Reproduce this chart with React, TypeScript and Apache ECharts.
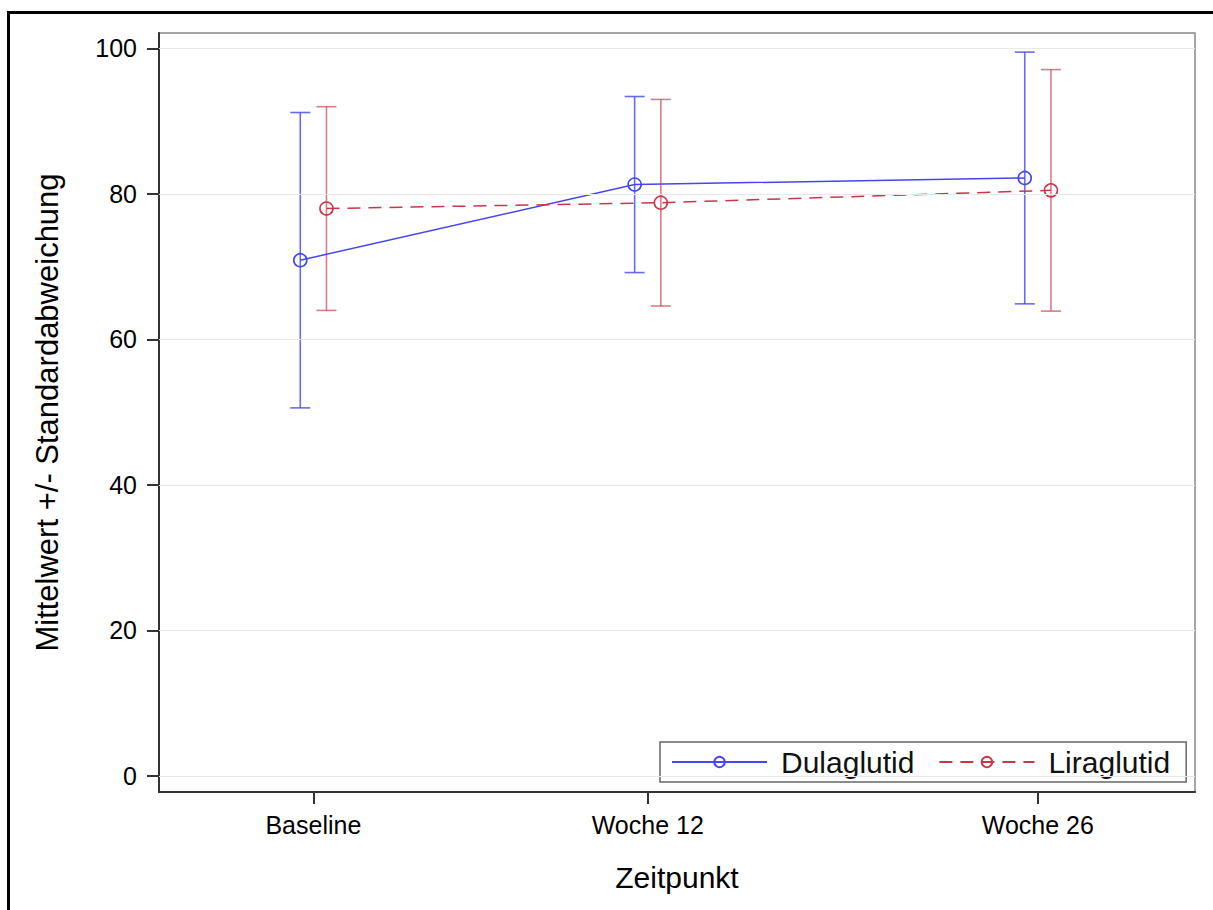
import React, { useEffect, useRef } from "react";
import * as echarts from "echarts";

// ---- data ----
const weeks = [0, 12, 26];
const timeLabels = ["Baseline", "Woche 12", "Woche 26"];
const yTicks = [0, 20, 40, 60, 80, 100];

const duName = "Dulaglutid";
const duMean = [70.9, 81.3, 82.2];
const duSD = [20.3, 12.1, 17.3];

const liName = "Liraglutid";
const liMean = [78.0, 78.8, 80.5];
const liSD = [14.0, 14.2, 16.6];

// ---- styling ----
const DODGE = 0.47;
const BLUE = "#4646EE";
const RED = "#C8364A";
const FONT = "'Liberation Sans', Arial, sans-serif";

export default function App() {
  const ref = useRef<HTMLDivElement>(null);

  useEffect(() => {
    if (!ref.current) return;
    const chart = echarts.init(ref.current, null, { renderer: "svg" });

    const duPts = weeks.map((w, i) => [w - DODGE, duMean[i]]);
    const liPts = weeks.map((w, i) => [w + DODGE, liMean[i]]);
    const duErr = weeks.map((w, i) => [w - DODGE, duMean[i] - duSD[i], duMean[i] + duSD[i]]);
    const liErr = weeks.map((w, i) => [w + DODGE, liMean[i] - liSD[i], liMean[i] + liSD[i]]);

    const errRender = (color: string, opacity: number) => (params: any, api: any) => {
      const x = api.value(0);
      const lo = api.coord([x, api.value(1)]);
      const hi = api.coord([x, api.value(2)]);
      const half = 10;
      const style = { stroke: color, lineWidth: 1.6, opacity };
      return {
        type: "group",
        children: [
          { type: "line", shape: { x1: lo[0], y1: lo[1], x2: hi[0], y2: hi[1] }, style },
          { type: "line", shape: { x1: lo[0] - half, y1: lo[1], x2: lo[0] + half, y2: lo[1] }, style },
          { type: "line", shape: { x1: hi[0] - half, y1: hi[1], x2: hi[0] + half, y2: hi[1] }, style },
        ],
      };
    };

    const option: any = {
      animation: false,
      backgroundColor: "#fff",
      textStyle: { fontFamily: FONT, color: "#000" },
      grid: {
        left: 159,
        top: 33,
        right: 18,
        bottom: 118,
        show: true,
        borderColor: "#888",
        borderWidth: 1.5,
      },
      xAxis: {
        type: "value",
        min: -5.54,
        max: 31.64,
        name: "Zeitpunkt",
        nameLocation: "middle",
        nameGap: 70,
        nameTextStyle: { fontSize: 30, color: "#000", fontFamily: FONT },
        axisLine: { show: true, onZero: false, lineStyle: { color: "#333", width: 2 } },
        axisTick: { show: true, customValues: weeks, length: 12, lineStyle: { color: "#333", width: 2 } },
        axisLabel: {
          customValues: weeks,
          fontSize: 25,
          color: "#000",
          margin: 20,
          fontFamily: FONT,
          formatter: (v: number) => {
            const i = weeks.indexOf(v);
            return i >= 0 ? timeLabels[i] : "";
          },
        },
        splitLine: { show: false },
      },
      yAxis: {
        type: "value",
        min: -2.2,
        max: 102.13,
        name: "Mittelwert +/- Standardabweichung",
        nameLocation: "middle",
        nameGap: 96,
        nameTextStyle: { fontSize: 31, color: "#000", fontFamily: FONT },
        axisLine: { show: true, onZero: false, lineStyle: { color: "#333", width: 2 } },
        axisTick: { show: true, customValues: yTicks, length: 12, lineStyle: { color: "#333", width: 2 } },
        axisLabel: {
          customValues: yTicks,
          fontSize: 25,
          color: "#000",
          margin: 22,
          fontFamily: FONT,
        },
        splitLine: { show: false },
      },
      legend: {
        left: 660,
        top: 742,
        orient: "horizontal",
        data: [duName, liName],
        itemWidth: 95,
        itemHeight: 13,
        itemGap: 24,
        padding: [5, 16, 5, 11],
        borderColor: "#666",
        borderWidth: 1.5,
        backgroundColor: "#fff",
        textStyle: { fontSize: 30, color: "#111", fontFamily: FONT, padding: [0, 0, 0, 9] },
      },
      graphic: [
        {
          type: "rect",
          shape: { x: 8.5, y: 12.5, width: 1220, height: 920 },
          style: { fill: "none", stroke: "#000", lineWidth: 3 },
          silent: true,
          z: 100,
        },
      ],
      series: [
        {
          type: "line",
          name: "grid",
          data: [],
          silent: true,
          z: 0,
          markLine: {
            silent: true,
            symbol: "none",
            label: { show: false },
            lineStyle: { color: "#e8e8e8", width: 1, type: "solid" },
            data: yTicks.map((v) => ({ yAxis: v })),
          },
        },
        {
          type: "custom",
          name: duName + " SD",
          data: duErr,
          renderItem: errRender(BLUE, 0.8),
          z: 2,
          silent: true,
        },
        {
          type: "custom",
          name: liName + " SD",
          data: liErr,
          renderItem: errRender(RED, 0.65),
          z: 2,
          silent: true,
        },
        {
          type: "line",
          name: duName,
          data: duPts,
          symbol: "circle",
          symbolSize: 13,
          lineStyle: { color: BLUE, width: 1.5, type: "solid" },
          itemStyle: { color: "rgba(255,255,255,0)", borderColor: BLUE, borderWidth: 1.6 },
          z: 3,
        },
        {
          type: "line",
          name: liName,
          data: liPts,
          symbol: "circle",
          symbolSize: 13,
          lineStyle: { color: RED, width: 1.5, type: [13, 8] },
          itemStyle: { color: "rgba(255,255,255,0)", borderColor: RED, borderWidth: 1.6 },
          z: 3,
        },
      ],
    };

    chart.setOption(option);
    return () => chart.dispose();
  }, []);

  return (
    <div
      ref={ref}
      style={{ position: "absolute", left: 0, top: 0, width: 1213, height: 910 }}
    />
  );
}
